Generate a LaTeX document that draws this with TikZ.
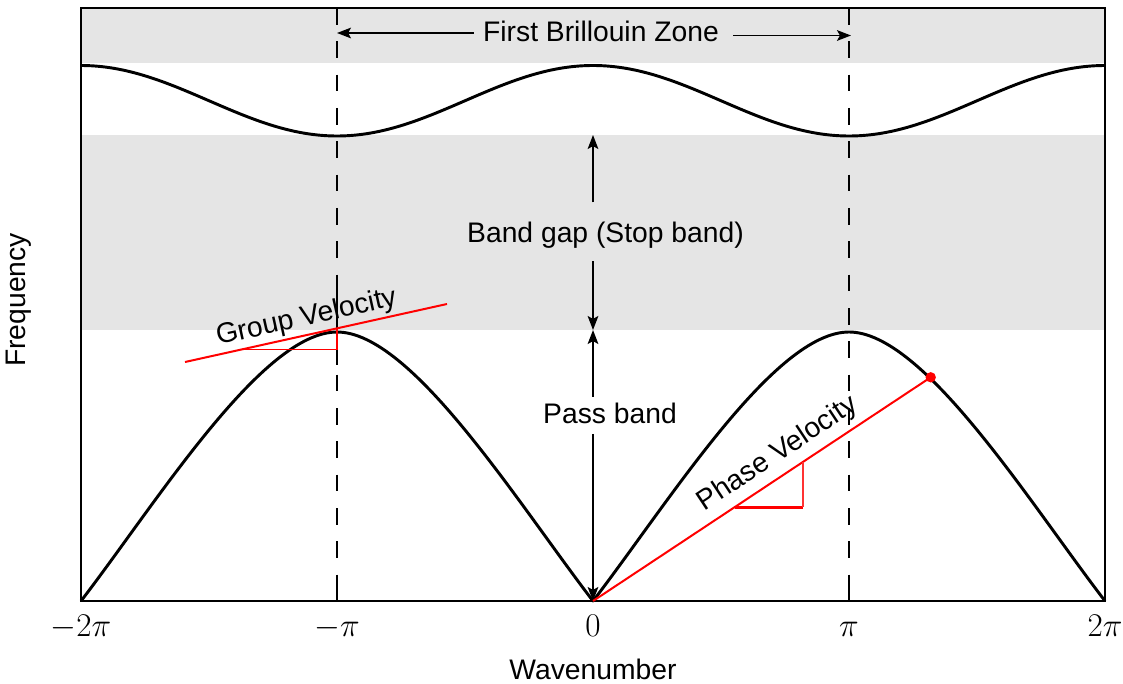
\documentclass[tikz,border=0pt]{standalone}
\usepackage{fontspec}
\setmainfont{Liberation Sans}
\usetikzlibrary{arrows.meta,calc}
\definecolor{bandgray}{gray}{0.9}
\begin{document}
\begin{tikzpicture}[x=0.75pt,y=-0.75pt,
  lbl/.style={font=\fontsize{21.2}{25}\selectfont, inner sep=0pt},
  ticklbl/.style={font=\fontsize{24}{28}\selectfont, inner sep=0pt, anchor=base},
  arr/.style={line width=1.4pt, -{Stealth[length=10.5pt,width=8pt,inset=2.2pt]}},
  curve/.style={line width=2.2pt, line join=round},
  zone/.style={line width=1pt, dash pattern=on 12.5pt off 12.5pt},
  vel/.style={red, line width=1.5pt},
  thinred/.style={red, line width=1pt}]
\useasboundingbox (0,0) rectangle (1123,684);
% bands
\fill[bandgray] (81,8) rectangle (1105,63);
\fill[bandgray] (81,135) rectangle (1105,330);
% zone boundaries
\draw[zone] (337,8) -- (337,601);
\draw[zone] (849,8) -- (849,601);
% coordinates
\coordinate (O) at (593,601);
\coordinate (gT) at (593,135);
\coordinate (gM) at (593,330);
\coordinate (zl) at (337,33);
\coordinate (zr) at (851,35.5);
% upper branch
\draw[curve] plot[domain=81:1105, samples=201, smooth] (\x,{100.75-35.25*cos((\x-593)/256*180)});
% lower branch
\draw[curve] (81,601) .. controls (156,503.5) and (262,332) .. (337,332)
  .. controls (412,332) and (518,503.5) .. (O)
  .. controls (668,503.5) and (774,332) .. (849,332)
  .. controls (924,332) and (1030,503.5) .. (1105,601);
% frame
\draw[line width=1.3pt] (81,8) rectangle (1105,601);
% ticks
\foreach \t in {337,593,849} \draw[line width=0.8pt] (\t,601) -- (\t,585);
% tick labels
\node[ticklbl] (tm2) at (81,636) {$-2\pi$};
\node[ticklbl] (tm1) at (337,636) {$-\pi$};
\node[ticklbl] (t0) at (593,636) {$0$};
\node[ticklbl] (tp1) at (849,636) {$\pi$};
\node[ticklbl] (tp2) at (1105,636) {$2\pi$};
% axis labels
\node[lbl, anchor=base] (wn) at (593,679) {Wavenumber};
\node[lbl, rotate=90, anchor=base] (freq) at (26,300) {Frequency};
% first Brillouin zone
\node[lbl, anchor=base] (fbz) at (601,42) {First Brillouin Zone};
\draw[arr] ($(fbz.west |- zl)+(-9,0)$) -- (zl);
\draw[arr] ($(fbz.east |- zr)+(14,0)$) -- (zr);
% band gap
\node[lbl, anchor=base] (bg) at (605.5,243) {Band gap (Stop band)};
\draw[arr] ($(bg.north -| gT)+(0,-20)$) -- (gT);
\draw[arr] ($(bg.south -| gT)+(0,12)$) -- (gM);
% pass band
\node[lbl, anchor=base] (pb) at (610,423.3) {Pass band};
\draw[arr] ($(pb.north -| gT)+(0,-6)$) -- (gM);
\draw[arr] ($(pb.south -| gT)+(0,10)$) -- (O);
% group velocity
\coordinate (g1) at (185,362);
\coordinate (g2) at (447,304);
\coordinate (gt) at ($(g1)!0.5802!(g2)$);
\coordinate (gh) at ($(g1)!0.219!(g2)$);
\coordinate (gvt) at (337,281);
\coordinate (gvb) at (337,365);
\draw[line width=0.8pt] (gvt) -- (gvb);
\draw[thinred] (gh) -- (gh -| gt) -- (gt);
\draw[vel] (g1) -- (g2);
\node[lbl, rotate=12.5, anchor=base] (gv) at (308,325) {Group Velocity};
% phase velocity
\node[circle, fill=red, inner sep=0pt, minimum size=7.8pt] (dot) at (930.7,377.3) {};
\draw[vel] (O) -- (dot.center);
\coordinate (pa) at ($(O)!0.42!(dot.center)$);
\coordinate (pb2) at ($(O)!0.622!(dot.center)$);
\draw[red, line width=2.2pt] (pa) -- (pa -| pb2);
\draw[red!80, line width=1.1pt] (pa -| pb2) -- (pb2);
\node[lbl, rotate=33.5, anchor=base] (pv) at (782,460) {Phase Velocity};
\end{tikzpicture}
\end{document}
